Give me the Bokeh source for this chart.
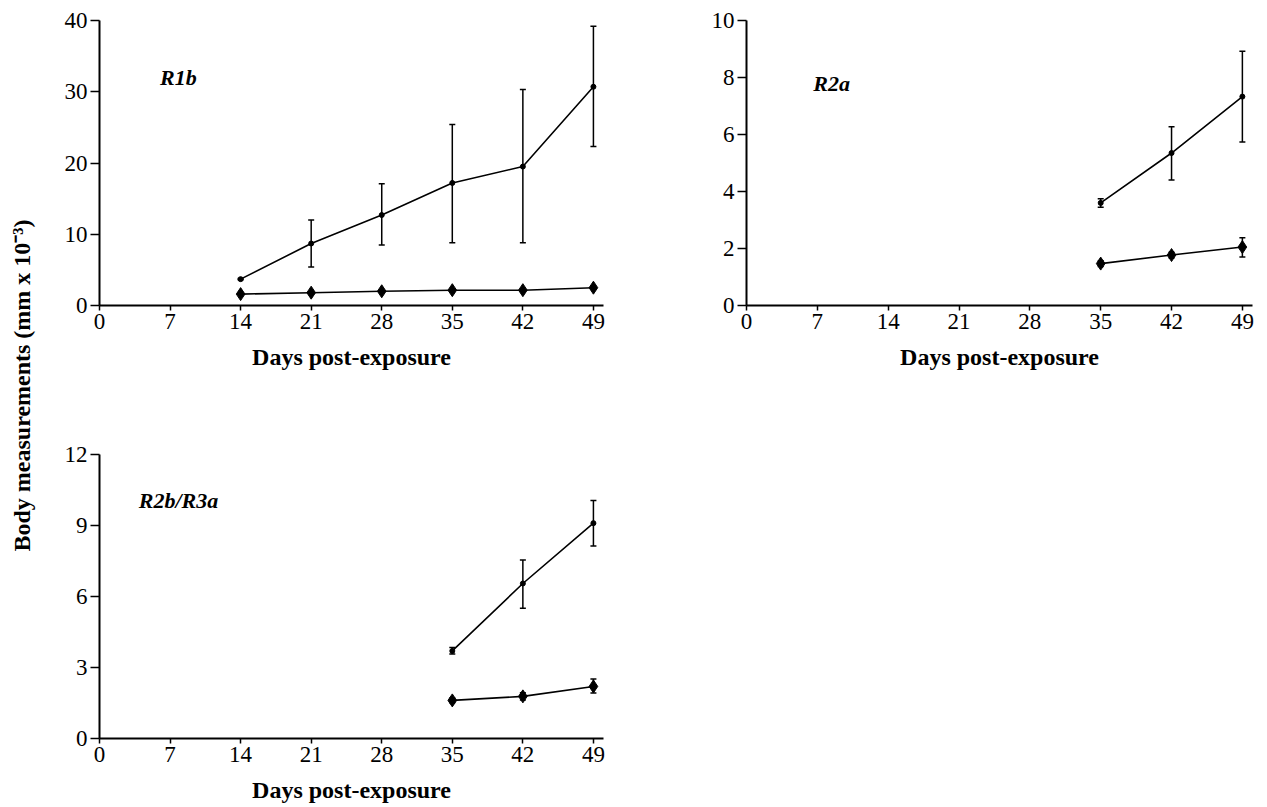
import math
from bokeh.plotting import figure
from bokeh.models import Range1d, FixedTicker, ColumnDataSource, Whisker, TeeHead
from bokeh.layouts import row, column
from bokeh.core.properties import value
from bokeh.embed import file_html
from bokeh.resources import INLINE

# ---- data ----
x_ticks = [0, 7, 14, 21, 28, 35, 42, 49]

r1b_days = [14, 21, 28, 35, 42, 49]
r1b_upper = [3.7, 8.7, 12.7, 17.2, 19.5, 30.7]
r1b_upper_hi = [3.8, 12.0, 17.1, 25.4, 30.3, 39.2]
r1b_upper_lo = [3.6, 5.4, 8.5, 8.8, 8.8, 22.3]
r1b_lower = [1.6, 1.8, 2.0, 2.15, 2.15, 2.5]
r1b_lower_hi = [1.65, 1.85, 2.05, 2.2, 2.2, 2.6]
r1b_lower_lo = [1.55, 1.75, 1.95, 2.1, 2.1, 2.4]

late_days = [35, 42, 49]
r2a_upper = [3.6, 5.35, 7.33]
r2a_upper_hi = [3.75, 6.27, 8.92]
r2a_upper_lo = [3.45, 4.40, 5.74]
r2a_lower = [1.47, 1.77, 2.05]
r2a_lower_hi = [1.57, 1.87, 2.38]
r2a_lower_lo = [1.37, 1.67, 1.70]

r2b_upper = [3.7, 6.55, 9.1]
r2b_upper_hi = [3.84, 7.54, 10.06]
r2b_upper_lo = [3.57, 5.50, 8.13]
r2b_lower = [1.61, 1.78, 2.2]
r2b_lower_hi = [1.71, 1.93, 2.51]
r2b_lower_lo = [1.51, 1.63, 1.92]

FONT = "Liberation Serif"


def make_panel(name, label_xy, ymax, yticks, days, up, up_hi, up_lo, lo, lo_hi, lo_lo,
               width, height, bl, br, bt, bb):
    p = figure(width=width, height=height, x_range=Range1d(0, 50), y_range=Range1d(0, ymax),
               output_backend="svg", toolbar_location=None,
               min_border_left=bl, min_border_right=br, min_border_top=bt, min_border_bottom=bb)
    p.outline_line_color = None
    p.xgrid.visible = False
    p.ygrid.visible = False
    p.background_fill_color = "white"
    p.border_fill_color = "white"

    for ax in (p.xaxis[0], p.yaxis[0]):
        ax.axis_line_width = 2
        ax.axis_line_color = "black"
        ax.major_tick_line_width = 1.5
        ax.major_tick_line_color = "black"
        ax.minor_tick_line_color = None
        ax.major_tick_in = 0
        ax.major_label_text_font = FONT
        ax.major_label_text_font_size = "23px"
        ax.major_label_text_color = "black"
    p.xaxis.ticker = FixedTicker(ticks=x_ticks)
    p.yaxis.ticker = FixedTicker(ticks=yticks)
    p.xaxis.major_tick_out = 5
    p.yaxis.major_tick_out = 9
    p.xaxis.major_label_standoff = 3
    p.yaxis.major_label_standoff = 3
    p.xaxis.axis_label = "Days post-exposure"
    p.xaxis.axis_label_text_font = FONT
    p.xaxis.axis_label_text_font_style = "bold"
    p.xaxis.axis_label_text_font_size = "24px"
    p.xaxis.axis_label_text_color = "black"
    p.xaxis.axis_label_standoff = 12

    src_up = ColumnDataSource(dict(x=days, y=up, hi=up_hi, lo=up_lo))
    src_lo = ColumnDataSource(dict(x=days, y=lo, hi=lo_hi, lo=lo_lo))

    for src in (src_up, src_lo):
        w = Whisker(source=src, base="x", upper="hi", lower="lo", dimension="height",
                    line_color="black", line_width=1.5,
                    upper_head=TeeHead(size=6, line_color="black", line_width=1.5),
                    lower_head=TeeHead(size=6, line_color="black", line_width=1.5))
        p.add_layout(w)

    p.line("x", "y", source=src_up, line_color="black", line_width=1.6)
    p.scatter("x", "y", source=src_up, marker="circle", size=5, fill_color="black", line_color="black")
    p.line("x", "y", source=src_lo, line_color="black", line_width=1.6)
    p.scatter("x", "y", source=src_lo, marker="diamond", size=13, fill_color="black", line_color="black")

    p.text(x=[label_xy[0]], y=[label_xy[1]], text=[name], text_font=value(FONT),
           text_font_style="bold italic", text_font_size="22px", text_color="black",
           text_align="left", text_baseline="middle")
    return p


H1 = 380
H3 = 425
p1 = make_panel("R1b", (6, 32), 40, [0, 10, 20, 30, 40], r1b_days,
                r1b_upper, r1b_upper_hi, r1b_upper_lo, r1b_lower, r1b_lower_hi, r1b_lower_lo,
                width=575, height=H1, bl=61, br=10, bt=20, bb=75)
p2 = make_panel("R2a", (6.6, 7.78), 10, [0, 2, 4, 6, 8, 10], late_days,
                r2a_upper, r2a_upper_hi, r2a_upper_lo, r2a_lower, r2a_lower_hi, r2a_lower_lo,
                width=641, height=H1, bl=133, br=2, bt=20, bb=75)
p3 = make_panel("R2b/R3a", (3.9, 10.06), 12, [0, 3, 6, 9, 12], late_days,
                r2b_upper, r2b_upper_hi, r2b_upper_lo, r2b_lower, r2b_lower_hi, r2b_lower_lo,
                width=575, height=H3, bl=61, br=10, bt=74, bb=66)

# y-axis title figure
total_h = H1 + H3
lab = figure(width=38, height=total_h, x_range=Range1d(0, 38), y_range=Range1d(0, total_h),
             output_backend="svg", toolbar_location=None, x_axis_type=None, y_axis_type=None,
             min_border=0, min_border_left=0, min_border_right=0, min_border_top=0, min_border_bottom=0)
lab.outline_line_color = None
lab.xgrid.visible = False
lab.ygrid.visible = False
lab.text(x=[21], y=[total_h - 385], text=["Body measurements (mm x 10\u207b\u00b3)"],
         text_font=value(FONT), text_font_style="bold", text_font_size="24px", text_color="black",
         text_align="center", text_baseline="middle", angle=math.pi / 2)

layout = row(lab, column(row(p1, p2), p3))

open("out.html", "w").write(file_html(layout, INLINE))
